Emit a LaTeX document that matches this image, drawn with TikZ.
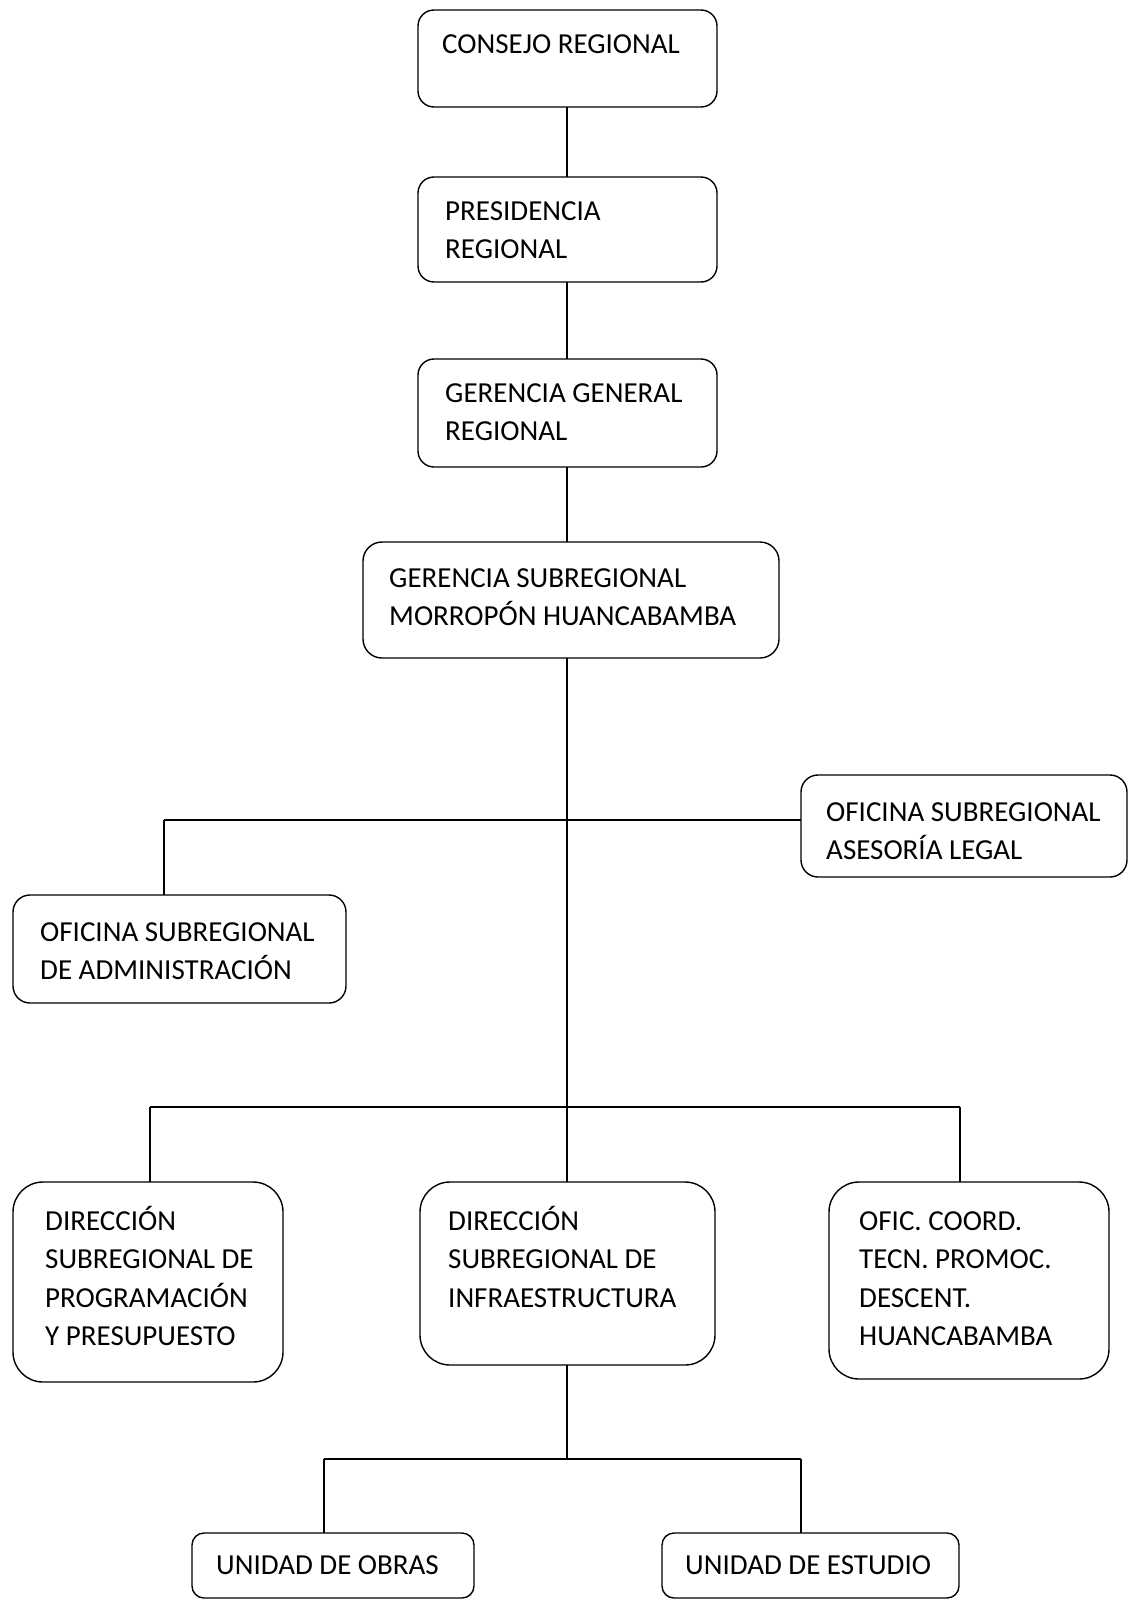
\documentclass[tikz,border=0pt]{standalone}
\usepackage{fontspec}
\setmainfont{Carlito}
\usetikzlibrary{fit}
\newcommand\mlines[1]{\begin{tabular}[t]{@{}l@{}}#1\end{tabular}}
\begin{document}
\begin{tikzpicture}[x=1pt,y=-1pt,
  orgbox/.style={draw=black, line width=1.4pt, inner sep=0pt, outer sep=0pt},
  lbl/.style={anchor=base west, inner sep=0pt, font=\fontsize{29}{38.5}\selectfont},
  conn/.style={draw=black, line width=1.4pt}]
\useasboundingbox (0,0) rectangle (1129,1600);
% boxes
\node[orgbox, rounded corners=16pt, fit={(418,10) (717,107)}] (consejo) {};
\node[orgbox, rounded corners=16pt, fit={(418,177) (717,282)}] (pres) {};
\node[orgbox, rounded corners=16pt, fit={(418,359) (717,467)}] (ggr) {};
\node[orgbox, rounded corners=19pt, fit={(363,542) (779,658)}] (gsr) {};
\node[orgbox, rounded corners=17pt, fit={(801,775) (1127,877)}] (legal) {};
\node[orgbox, rounded corners=17pt, fit={(13,895) (346,1003)}] (admin) {};
\node[orgbox, rounded corners=30pt, fit={(13,1182) (283,1382)}] (dpp) {};
\node[orgbox, rounded corners=30pt, fit={(420,1182) (715,1365)}] (dinf) {};
\node[orgbox, rounded corners=30pt, fit={(829,1182) (1109,1379)}] (ofc) {};
\node[orgbox, rounded corners=12pt, fit={(192,1533) (474,1598)}] (obras) {};
\node[orgbox, rounded corners=12pt, fit={(662,1533) (959,1598)}] (estudio) {};
% texts
\node[lbl] (t-consejo) at (442,54) {CONSEJO REGIONAL};
\node[lbl] (t-pres) at (445,220) {\mlines{PRESIDENCIA\\REGIONAL}};
\node[lbl] (t-ggr) at (445,402) {\mlines{GERENCIA GENERAL\\REGIONAL}};
\node[lbl] (t-gsr) at (389,587) {\mlines{GERENCIA SUBREGIONAL\\MORROPÓN HUANCABAMBA}};
\node[lbl] (t-legal) at (826,821) {\mlines{OFICINA SUBREGIONAL\\ASESORÍA LEGAL}};
\node[lbl] (t-admin) at (40,941) {\mlines{OFICINA SUBREGIONAL\\DE ADMINISTRACIÓN}};
\node[lbl] (t-dpp) at (45,1230) {\mlines{DIRECCIÓN\\SUBREGIONAL DE\\PROGRAMACIÓN\\Y PRESUPUESTO}};
\node[lbl] (t-dinf) at (448,1230) {\mlines{DIRECCIÓN\\SUBREGIONAL DE\\INFRAESTRUCTURA}};
\node[lbl] (t-ofc) at (859,1230) {\mlines{OFIC. COORD.\\TECN. PROMOC.\\DESCENT.\\HUANCABAMBA}};
\node[lbl] (t-obras) at (216,1574) {UNIDAD DE OBRAS};
\node[lbl] (t-estudio) at (685,1574) {UNIDAD DE ESTUDIO};
% junction coordinates
\coordinate (b1) at (567,820);
\coordinate (b1l) at (164,820);
\coordinate (b2) at (567,1107);
\coordinate (b2l) at (150,1107);
\coordinate (b2r) at (960,1107);
\coordinate (b3) at (567,1459);
\coordinate (b3l) at (324,1459);
\coordinate (b3r) at (801,1459);
% connectors
\draw[conn] (consejo.south -| b1) -- (pres.north -| b1);
\draw[conn] (pres.south -| b1) -- (ggr.north -| b1);
\draw[conn] (ggr.south -| b1) -- (gsr.north -| b1);
\draw[conn] (gsr.south -| b1) -- (dinf.north -| b1);
\draw[conn] (b1l) -- (b1 -| legal.west);
\draw[conn] (b1l) -- (b1l |- admin.north);
\draw[conn] (b2l) -- (b2r);
\draw[conn] (b2l) -- (b2l |- dpp.north);
\draw[conn] (b2r) -- (b2r |- ofc.north);
\draw[conn] (dinf.south -| b3) -- (b3);
\draw[conn] (b3l) -- (b3r);
\draw[conn] (b3l) -- (b3l |- obras.north);
\draw[conn] (b3r) -- (b3r |- estudio.north);
\end{tikzpicture}
\end{document}
